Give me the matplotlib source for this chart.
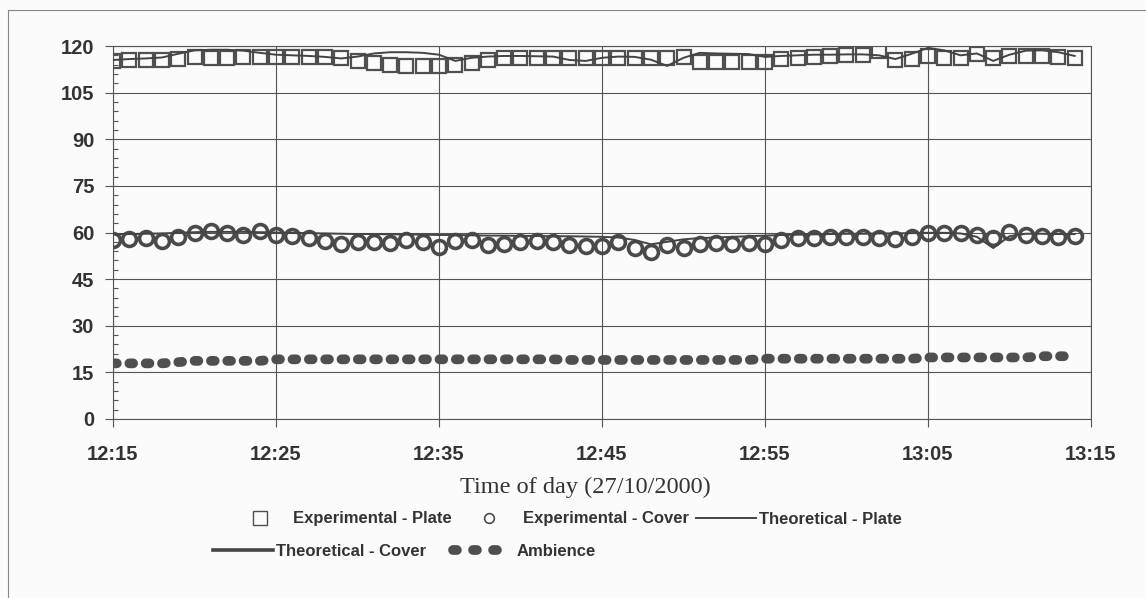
import matplotlib.pyplot as plt
import matplotlib.dates as mdates
import pandas as pd
from matplotlib.lines import Line2D
from matplotlib.ticker import MultipleLocator

# one reading per minute, 12:15 .. 13:14
times = pd.date_range("2000-10-27 12:15", periods=60, freq="1min")

exp_plate = [115.2, 115.4, 115.6, 115.6, 115.8, 116.6, 116.3, 116.3, 116.4, 116.4,
             116.6, 116.6, 116.6, 116.5, 116.0, 115.3, 114.6, 113.8, 113.6, 113.6,
             113.7, 113.8, 114.6, 115.6, 116.0, 116.0, 116.0, 116.0, 116.0, 116.0,
             116.2, 116.3, 116.3, 116.2, 116.0, 116.4, 115.0, 115.0, 115.0, 115.0,
             115.0, 115.8, 116.2, 116.6, 116.9, 117.0, 117.1, 118.5, 115.6, 115.8,
             116.9, 116.3, 116.3, 117.4, 116.0, 116.8, 116.8, 116.9, 116.5, 116.3]

exp_cover = [57.6, 57.9, 58.3, 57.3, 58.7, 59.7, 60.4, 59.7, 59.2, 60.5,
             59.2, 58.9, 58.1, 57.3, 56.2, 56.8, 56.8, 56.5, 57.6, 56.8,
             55.4, 57.3, 57.6, 56.0, 56.2, 57.1, 57.3, 56.8, 56.0, 55.8,
             55.8, 56.8, 54.9, 53.8, 56.0, 54.9, 56.2, 56.5, 56.2, 56.5,
             56.2, 57.6, 58.1, 58.1, 58.7, 58.7, 58.7, 58.3, 57.9, 58.7,
             59.7, 59.7, 59.7, 59.2, 58.3, 60.2, 59.2, 59.0, 58.7, 59.0]

theo_plate = [115.5, 115.8, 116.0, 116.3, 117.5, 118.6, 118.8, 118.8, 118.5, 117.8,
              117.2, 117.0, 116.8, 116.5, 116.0, 116.6, 117.6, 118.0, 118.0, 117.8,
              117.2, 115.2, 116.2, 116.6, 116.8, 116.8, 116.7, 116.6, 115.5, 115.2,
              116.2, 116.6, 116.5, 115.6, 113.6, 116.2, 117.8, 117.6, 117.5, 117.4,
              116.5, 116.8, 117.0, 117.2, 117.2, 117.3, 117.3, 117.0, 115.8, 117.5,
              119.4, 118.6, 117.0, 117.6, 115.2, 117.2, 118.5, 118.6, 118.0, 116.8]

theo_cover = [59.4, 59.5, 59.6, 59.7, 59.9, 60.1, 60.2, 60.2, 60.2, 60.1,
              60.0, 59.9, 59.8, 59.7, 59.6, 59.5, 59.5, 59.4, 59.4, 59.3,
              59.2, 59.2, 59.1, 59.0, 59.0, 58.9, 58.9, 58.8, 58.8, 58.7,
              58.6, 58.4, 57.6, 56.2, 57.0, 57.8, 58.2, 58.4, 58.6, 58.8,
              59.0, 59.2, 59.3, 59.4, 59.5, 59.6, 59.6, 59.7, 59.7, 59.8,
              59.9, 59.9, 59.7, 58.6, 55.0, 58.8, 59.6, 59.6, 59.5, 59.5]

ambience = [17.9, 17.9, 17.9, 17.9, 18.3, 18.7, 18.7, 18.7, 18.7, 18.7,
            19.2, 19.2, 19.2, 19.2, 19.2, 19.2, 19.2, 19.2, 19.2, 19.2,
            19.2, 19.2, 19.2, 19.2, 19.2, 19.2, 19.2, 19.2, 19.0, 19.0,
            19.0, 19.0, 19.0, 19.0, 19.0, 19.0, 19.0, 19.0, 19.0, 19.0,
            19.4, 19.4, 19.4, 19.4, 19.4, 19.4, 19.4, 19.4, 19.4, 19.4,
            19.8, 19.8, 19.8, 19.8, 19.8, 19.8, 19.8, 20.2, 20.2, 20.2]

labels = ["Experimental - Plate", "Experimental - Cover", "Theoretical - Plate",
          "Theoretical - Cover", "Ambience"]

W, H = 1146, 598
ink = "#333333"
grid_c = "#555555"

fig = plt.figure(figsize=(W / 100, H / 100), dpi=100, facecolor="#fbfbfb")
ax = fig.add_axes([113 / W, 1 - 419 / H, (1091 - 113) / W, (419 - 46) / H])
ax.set_facecolor("#fbfbfb")

h_amb, = ax.plot(times, ambience, color="#4f4f4f", lw=7, dashes=(0.39, 1.29),
                 dash_capstyle="round", zorder=3)
h_ep, = ax.plot(times, exp_plate, ls="none", marker="s", ms=10, mfc="none",
                mec="#505050", mew=1.6, zorder=3)
h_ec, = ax.plot(times, exp_cover, ls="none", marker="o", ms=10, mfc="none",
                mec="#4a4a4a", mew=2.6, zorder=3)
h_tp, = ax.plot(times, theo_plate, color="#444444", lw=1.4, zorder=4)
h_tc, = ax.plot(times, theo_cover, color="#444444", lw=1.4, zorder=4)

ax.set_xlim(times[0], pd.Timestamp("2000-10-27 13:15"))
ax.set_ylim(0, 120)
ax.xaxis.set_major_locator(mdates.MinuteLocator(byminute=range(5, 60, 10)))
ax.xaxis.set_major_formatter(mdates.DateFormatter("%H:%M"))
ax.set_yticks(range(0, 121, 15))
ax.yaxis.set_minor_locator(MultipleLocator(3))

ax.grid(True, which="major", color=grid_c, lw=0.8)
for s in ax.spines.values():
    s.set_color(grid_c)
    s.set_linewidth(0.8)

ax.tick_params(which="major", direction="out", length=5.5, width=0.8, color=grid_c)
ax.tick_params(axis="y", which="minor", direction="in", length=3.5, width=0.8, color=grid_c)
ax.tick_params(axis="x", pad=13)
ax.tick_params(axis="y", pad=8)
for t in ax.get_xticklabels() + ax.get_yticklabels():
    t.set_fontfamily("Liberation Sans")
    t.set_fontweight("bold")
    t.set_fontsize(14.5)
    t.set_color(ink)

ax.set_xlabel("Time of day (27/10/2000)", fontfamily="Liberation Serif",
              fontsize=17.5, color=ink)
ax.xaxis.set_label_coords((585 - 113) / (1091 - 113), -(487 - 419) / (419 - 46))
ax.xaxis.label.set_va("center")

leg_font = {"family": "Liberation Sans", "weight": "bold", "size": 12}
leg1 = fig.legend([h_ep, h_ec, h_tp], labels[:3], ncol=3, loc="center",
                  bbox_to_anchor=(566 / W, 1 - 519 / H), frameon=False, prop=leg_font,
                  handlelength=3.6, handletextpad=0.2, columnspacing=0.45,
                  borderpad=0, labelcolor=ink)
leg2 = fig.legend([h_tc, h_amb], labels[3:], ncol=2, loc="center",
                  bbox_to_anchor=(404 / W, 1 - 551 / H), frameon=False, prop=leg_font,
                  handlelength=3.6, handletextpad=0.2, columnspacing=1.6,
                  borderpad=0, labelcolor=ink)
leg2.get_lines()[0].set_linewidth(2.6)
leg2.get_lines()[1].set_dashes((0.4, 1.66))
leg1.get_lines()[0].set_markeredgewidth(1.0)
leg1.get_lines()[1].set_markeredgewidth(1.2)
leg1.get_lines()[1].set_markersize(7)

# outer chart frame (top and left edges survive in the scan)
fig.add_artist(Line2D([8 / W, 8 / W], [0, 1 - 10 / H], transform=fig.transFigure,
                      color="#888888", lw=0.8))
fig.add_artist(Line2D([8 / W, 1], [1 - 10 / H, 1 - 10 / H], transform=fig.transFigure,
                      color="#888888", lw=0.8))

fig.savefig("out.png", dpi=100, facecolor=fig.get_facecolor())
